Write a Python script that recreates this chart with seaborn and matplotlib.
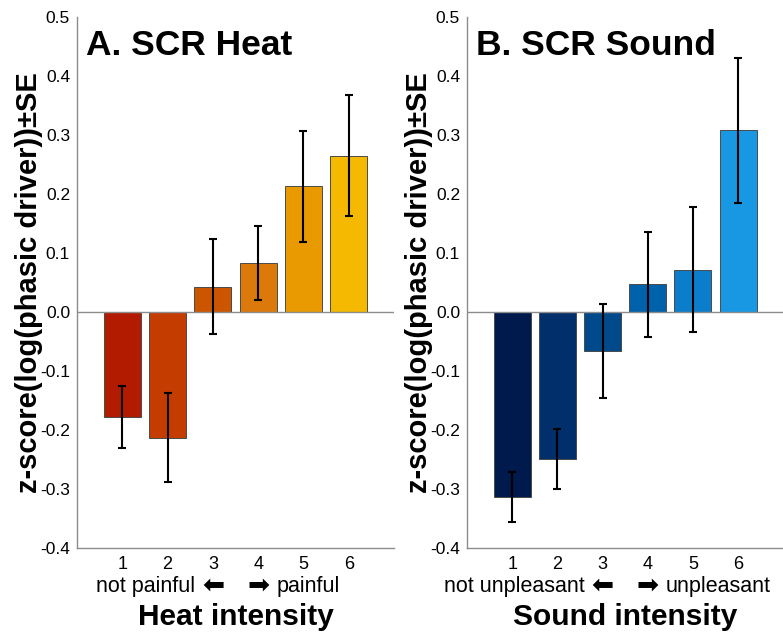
import numpy as np
import pandas as pd
import matplotlib
matplotlib.use("Agg")
import matplotlib.pyplot as plt
import matplotlib.transforms as mtransforms
import seaborn as sns

# ------------------------------------------------------------
# data (mean +- SE)
# ------------------------------------------------------------
levels = ["1", "2", "3", "4", "5", "6"]

heat_mean = [-0.178, -0.213, 0.043, 0.083, 0.213, 0.265]
heat_se = [0.053, 0.075, 0.080, 0.062, 0.094, 0.103]

sound_mean = [-0.314, -0.249, -0.066, 0.047, 0.072, 0.308]
sound_se = [0.042, 0.051, 0.079, 0.089, 0.106, 0.123]

heat_colors = ["#B31B00", "#C43C00", "#CC5600", "#DC790B", "#E89A00", "#F4B900"]
sound_colors = ["#001A4D", "#002F6C", "#004A8C", "#0062AB", "#0A7DCB", "#1898E3"]

y_ticks = [-0.4, -0.3, -0.2, -0.1, 0.0, 0.1, 0.2, 0.3, 0.4, 0.5]

panels = [
    ("A. SCR Heat", heat_mean, heat_se, heat_colors,
     "not painful", "painful", "Heat intensity"),
    ("B. SCR Sound", sound_mean, sound_se, sound_colors,
     "not unpleasant", "unpleasant", "Sound intensity"),
]

# ------------------------------------------------------------
# style
# ------------------------------------------------------------
sns.set_style("white")
plt.rcParams["font.family"] = ["Liberation Sans", "DejaVu Sans"]
plt.rcParams["axes.unicode_minus"] = False
plt.rcParams["text.color"] = "black"
plt.rcParams["xtick.labelcolor"] = "black"
plt.rcParams["ytick.labelcolor"] = "black"

fig = plt.figure(figsize=(7.83, 6.32), dpi=100)
axes = [fig.add_axes([0.0983, 0.133, 0.405, 0.840]),
        fig.add_axes([0.5964, 0.133, 0.404, 0.840])]

grey = "#8c8c8c"
ylab = "z-score(log(phasic driver))\u00b1SE"

for ax, (title, mean, se, colors, lo_txt, hi_txt, xlab) in zip(axes, panels):
    df = pd.DataFrame({"level": levels, "mean": mean, "se": se})

    sns.barplot(data=df, x="level", y="mean", hue="level", palette=colors,
                saturation=1, legend=False, width=0.82, edgecolor="#4a4a4a",
                linewidth=0.7, errorbar=None, ax=ax)
    xpos = np.arange(len(levels))
    ax.errorbar(xpos, df["mean"], yerr=df["se"], fmt="none", ecolor="black",
                elinewidth=1.5, capsize=3, capthick=1.5, zorder=5)

    ax.axhline(0, color=grey, lw=1.0, zorder=1)
    ax.set_xlim(-1, 6)
    ax.set_ylim(-0.4, 0.5)
    ax.set_yticks(y_ticks)
    ax.set_yticklabels([f"{t:.1f}" for t in y_ticks])
    ax.set_xlabel("")
    ax.set_ylabel("")

    sns.despine(ax=ax)
    for s in ["left", "bottom"]:
        ax.spines[s].set_color(grey)
        ax.spines[s].set_linewidth(1.0)
    ax.tick_params(axis="x", direction="in", length=4, color=grey,
                   labelsize=13, pad=6)
    ax.tick_params(axis="y", direction="out", length=4, color=grey,
                   labelsize=12.5, pad=1)

    ax.text(0.03, 0.947, title, transform=ax.transAxes, fontsize=25.5,
            fontweight="bold", ha="left", va="center")
    ax.text(-0.152, 0.5, ylab, transform=ax.transAxes, rotation=90,
            fontsize=21, fontweight="bold", ha="center", va="center")

    # direction hints under the ticks
    tr = mtransforms.blended_transform_factory(ax.transData, ax.transAxes)
    ax.text(1.6, -0.073, lo_txt, transform=tr, fontsize=15.5, ha="right",
            va="center", clip_on=False)
    ax.text(2.0, -0.071, "\u2b05", transform=tr, fontsize=19,
            family="DejaVu Sans", ha="center", va="center", clip_on=False)
    ax.text(3.0, -0.071, "\u27a1", transform=tr, fontsize=19,
            family="DejaVu Sans", ha="center", va="center", clip_on=False)
    ax.text(3.4, -0.073, hi_txt, transform=tr, fontsize=15.5, ha="left",
            va="center", clip_on=False)
    ax.text(2.5, -0.130, xlab, transform=tr, fontsize=21.5, fontweight="bold",
            ha="center", va="center", clip_on=False)

fig.savefig("out.png", dpi=100)
